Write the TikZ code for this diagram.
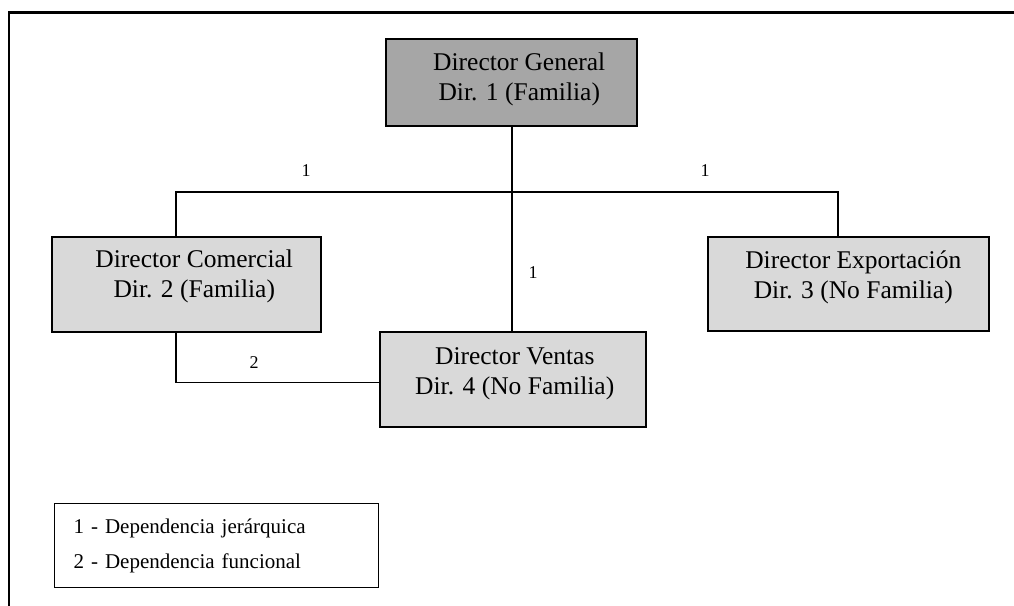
\documentclass[tikz,border=0pt]{standalone}
\usepackage{fontspec}
\setmainfont{Liberation Serif}
\definecolor{darkbox}{HTML}{A6A6A6}
\definecolor{lightbox}{HTML}{D9D9D9}
\begin{document}
\begin{tikzpicture}[x=1pt,y=-1pt,
  boxtext/.style={font=\fontsize{25.5}{30}\selectfont, align=center, inner sep=0pt},
  dirbox/.style={draw=black, line width=1.5pt, inner sep=0pt, anchor=north west},
  conn/.style={draw=black, line width=1.5pt},
  numlab/.style={font=\fontsize{18}{20}\selectfont, inner sep=0pt},
]
\useasboundingbox (0,0) rectangle (1014,605);
% outer frame
\draw[line width=2.2pt, line cap=rect] (1016,12.5) -- (9,12.5) -- (9,607);

% boxes
\node[dirbox, fill=darkbox, minimum width=251pt, minimum height=87pt,
  label={[boxtext, xshift=8pt, yshift=3pt]center:{Director General\\Dir. 1 (Familia)}}]
  (dg) at (385,38) {};
\node[dirbox, fill=lightbox, minimum width=269pt, minimum height=95pt,
  label={[boxtext, xshift=8pt, yshift=8pt]center:{Director Comercial\\Dir. 2 (Familia)}}]
  (com) at (51,236) {};
\node[dirbox, fill=lightbox, minimum width=281pt, minimum height=94pt,
  label={[boxtext, xshift=5pt, yshift=6pt]center:{Director Exportación\\Dir. 3 (No Familia)}}]
  (exp) at (707,236) {};
\node[dirbox, fill=lightbox, minimum width=266pt, minimum height=95pt,
  label={[boxtext, xshift=2pt, yshift=5pt]center:{Director Ventas\\Dir. 4 (No Familia)}}]
  (ven) at (379,331) {};

% connector coordinates
\coordinate (busL) at (176,192);
\coordinate (busR) at (838,192);
\coordinate (busM) at (512,192);
\coordinate (fcorner) at (176,382.5);

% hierarchical connectors
\draw[conn] (busM |- dg.south) -- (busM |- ven.north);
\draw[conn] (busL |- com.north) -- (busL) -- (busR) -- (busR |- exp.north);
% functional connector
\draw[conn] (busL |- com.south) -- (fcorner) -- (fcorner -| ven.west);

% labels
\node[numlab] (l1) at (306,171) {1};
\node[numlab] (l2) at (705,171) {1};
\node[numlab] (l3) at (533,273) {1};
\node[numlab] (l4) at (254,363) {2};

% legend
\node[draw=black, line width=1.2pt, anchor=north west, inner xsep=19pt, inner ysep=0pt,
  text width=286pt, minimum height=84pt, align=left,
  font=\fontsize{21}{35}\selectfont] (leg) at (54,503)
  {1 - Dependencia jerárquica\\2 - Dependencia funcional};
\end{tikzpicture}
\end{document}
